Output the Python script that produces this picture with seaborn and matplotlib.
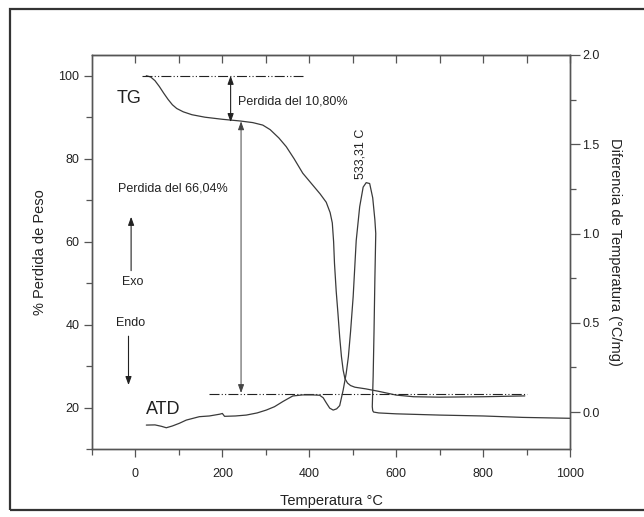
import numpy as np
import pandas as pd
import matplotlib
matplotlib.use("Agg")
import matplotlib.pyplot as plt
import seaborn as sns
from matplotlib.patches import Rectangle

sns.set_style("ticks")
plt.rcParams['font.family'] = ['Liberation Sans Narrow', 'Liberation Sans', 'DejaVu Sans']

# ---- data ----
tg_temp = [25, 35, 45, 55, 65, 75, 85, 95, 110, 130, 160, 200, 240, 270, 293, 310, 330, 347, 365,
           385, 405, 425, 439, 448, 453, 456, 458, 462, 466, 470, 474, 478, 482, 488, 495, 505,
           530, 560, 600, 640, 700, 800, 896]
tg_mass = [100, 99.7, 98.8, 97.4, 95.8, 94.3, 93.0, 92.1, 91.3, 90.6, 90.0, 89.5, 89.1, 88.7, 88.1,
           87.0, 85.0, 82.9, 80.0, 76.5, 74.0, 71.5, 69.5, 67.0, 64.5, 60.0, 54.8, 48.0, 42.7,
           37.0, 32.3, 29.0, 27.0, 25.9, 25.3, 24.9, 24.5, 23.9, 23.0, 22.6, 22.5, 22.6, 22.8]

atd_temp = [25, 45, 60, 71, 85, 101, 117, 147, 170, 194, 200, 205, 230, 255, 280, 301, 320, 340,
            362, 385, 408, 424, 432, 439, 447, 455, 463, 470, 478, 485, 490, 495, 501, 508, 516,
            524, 531, 539, 546, 551, 553, 551, 549, 547, 545, 546, 548, 560, 600, 700, 800, 892, 1000]
atd_dt = [-0.073, -0.072, -0.08, -0.088, -0.078, -0.063, -0.045, -0.026, -0.022, -0.012, -0.008,
          -0.024, -0.022, -0.017, -0.005, 0.011, 0.03, 0.06, 0.09, 0.096, 0.096, 0.094, 0.08,
          0.052, 0.022, 0.011, 0.018, 0.036, 0.123, 0.217, 0.31, 0.45, 0.646, 0.96, 1.15,
          1.26, 1.285, 1.28, 1.2, 1.076, 1.0, 0.75, 0.45, 0.2, 0.03,
          0.008, 0.0, -0.005, -0.01, -0.017, -0.022, -0.03, -0.035]

x_ticks = [0, 200, 400, 600, 800, 1000]
left_ticks = [20, 40, 60, 80, 100]
right_ticks = [0.0, 0.5, 1.0, 1.5, 2.0]

tg_df = pd.DataFrame({"T": tg_temp, "TG": tg_mass})
atd_df = pd.DataFrame({"T": atd_temp, "ATD": atd_dt})

# ---- figure ----
W, H = 644, 517
fig = plt.figure(figsize=(W / 100, H / 100), dpi=100)
fig.patch.set_facecolor("white")
L, R, T, B = 92, 570, 55, 449
ax = fig.add_axes([L / W, 1 - B / H, (R - L) / W, (B - T) / H])
ax2 = ax.twinx()

line_c = "#3a3a3a"
txt_c = "#222222"
spine_c = "#555555"

sns.lineplot(data=tg_df, x="T", y="TG", ax=ax, sort=False, estimator=None, color=line_c, lw=0.9)
sns.lineplot(data=atd_df, x="T", y="ATD", ax=ax2, sort=False, estimator=None, color=line_c, lw=0.9)

ax.set_xlim(-100, 1000)
ax.set_ylim(10, 105)
ax2.set_ylim(-0.207, 2.0)

ax.set_xticks(x_ticks)
ax.set_xticks(np.arange(-100, 1000, 200), minor=True)
ax.set_yticks(left_ticks)
ax.set_yticks([10, 30, 50, 70, 90], minor=True)
ax2.set_yticks(right_ticks)
ax2.set_yticklabels([f"{v:.1f}" for v in right_ticks])
ax2.set_yticks([0.25, 0.75, 1.25, 1.75], minor=True)

for a in (ax, ax2):
    for s in a.spines.values():
        s.set_color(spine_c)
        s.set_linewidth(1.0)
ax.tick_params(axis='both', which='major', direction='out', length=6, width=0.9,
               color=spine_c, labelsize=9, labelcolor=txt_c, pad=3)
ax.tick_params(axis='both', which='minor', direction='out', length=4, width=0.9, color=spine_c)
ax.tick_params(axis='x', which='major', pad=8)
ax2.tick_params(axis='y', which='major', direction='out', length=7, width=0.9,
                color=spine_c, labelsize=9, labelcolor=txt_c, pad=2)
ax2.tick_params(axis='y', which='minor', direction='out', length=4, width=0.9, color=spine_c)

top = ax.secondary_xaxis('top')
top.set_xticks(list(range(0, 1001, 100)))
top.tick_params(axis='x', direction='in', length=6, width=0.9, color=spine_c, labeltop=False)
top.spines['top'].set_color(spine_c)

ax.set_xlabel("Temperatura °C", fontsize=10.5, color=txt_c, labelpad=10)
ax.set_ylabel("% Perdida de Peso", fontsize=10.5, color=txt_c, labelpad=8)
ax2.set_ylabel("Diferencia de Temperatura (°C/mg)", fontsize=10.5, color=txt_c,
               rotation=-90, labelpad=16)

# ---- annotations ----
dash = (0, (9, 2, 1, 2, 1, 2))
ax.plot([15, 385], [100, 100], color="#222222", lw=0.8, linestyle=dash)
ax.plot([170, 900], [23.3, 23.3], color="#222222", lw=0.8, linestyle=dash)

arr2 = dict(arrowstyle='<|-|>,head_length=0.5,head_width=0.18', color="#222222", lw=0.8,
            shrinkA=0, shrinkB=0)
ax.annotate('', xy=(219, 100), xytext=(219, 88.8), arrowprops=arr2)
ax.annotate('', xy=(243, 89), xytext=(243, 23.5), arrowprops=dict(arr2, color="#444444", lw=0.7))
arr1 = dict(arrowstyle='-|>,head_length=0.5,head_width=0.18', color="#222222", lw=0.8,
            shrinkA=0, shrinkB=0)
ax.annotate('', xy=(-10, 66), xytext=(-10, 53), arrowprops=arr1)
ax.annotate('', xy=(-16, 25.4), xytext=(-16, 37.2), arrowprops=arr1)

ax.text(235, 93.9, "Perdida del 10,80%", fontsize=9, color=txt_c, va='center', ha='left')
ax.text(-41, 72.9, "Perdida del 66,04%", fontsize=9, color=txt_c, va='center', ha='left')
ax.text(-44, 94.6, "TG", fontsize=13, color=txt_c, va='center', ha='left')
ax.text(25, 19.6, "ATD", fontsize=13, color=txt_c, va='center', ha='left')
ax.text(-7, 50.3, "Exo", fontsize=9, color=txt_c, va='center', ha='center')
ax.text(-11, 40.4, "Endo", fontsize=9, color=txt_c, va='center', ha='center')
ax2.text(518, 1.445, "533,31 C", fontsize=9, color=txt_c, va='center', ha='center', rotation=90)

# outer frame
fig.patches.append(Rectangle((10 / W, 7 / H), 1.0, (H - 16) / H, transform=fig.transFigure,
                             fill=False, edgecolor="#333333", lw=1.6))

fig.savefig("out.png", dpi=100, facecolor="white")
